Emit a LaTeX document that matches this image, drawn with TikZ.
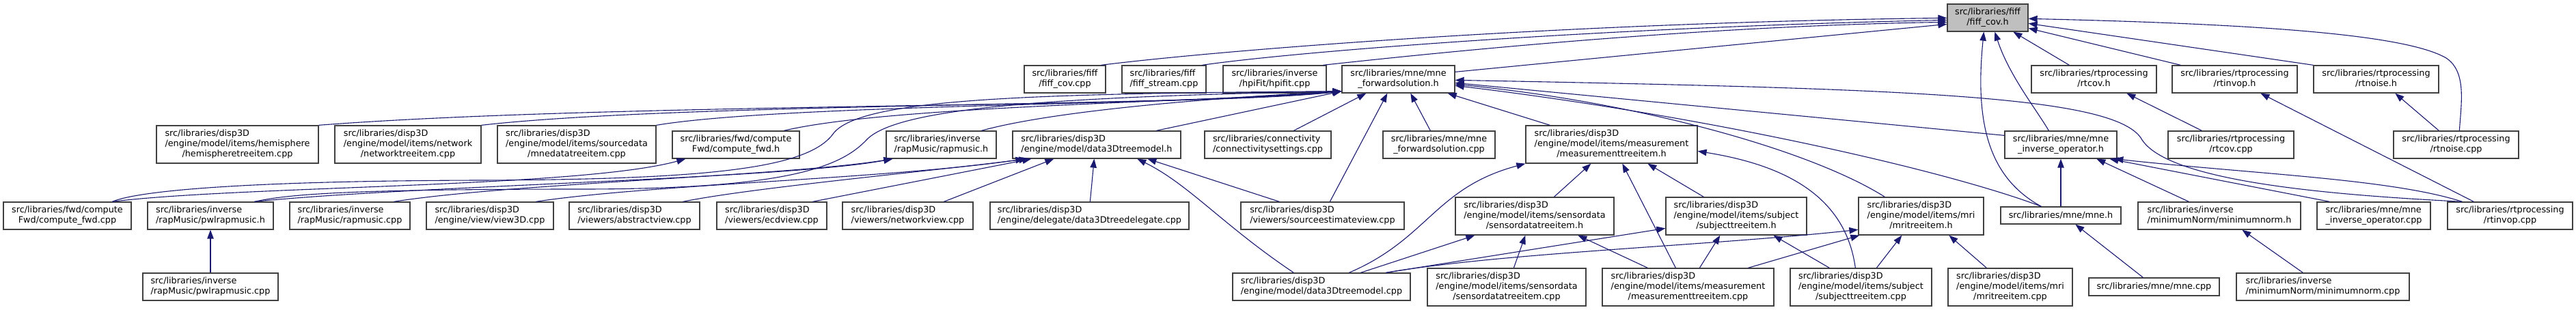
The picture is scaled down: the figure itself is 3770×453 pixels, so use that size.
\documentclass[tikz,border=0pt]{standalone}
\usepackage{fontspec}
\setmainfont{DejaVu Sans}
\usetikzlibrary{arrows.meta}
\definecolor{mblue}{HTML}{191970}
\definecolor{nodeborder}{HTML}{404040}
\definecolor{rootfill}{HTML}{BFBFBF}
\newcommand\fsz{\fontsize{12.8}{15}\selectfont}
\newcommand\Ltwo[2]{\begin{tabular}{@{}l@{}}#1\\\multicolumn{1}{@{}c@{}}{#2}\end{tabular}}
\newcommand\Lthree[3]{\begin{tabular}{@{}l@{}}#1\\#2\\\multicolumn{1}{@{}c@{}}{#3}\end{tabular}}
\tikzset{
  fnode/.style={draw=nodeborder, line width=1.3pt, fill=white, inner sep=0pt, font=\fsz},
  dep/.style={draw=mblue, line width=1.1pt, arrows={Triangle[length=13pt,width=9.5pt]-}},
}
\begin{document}
\begin{tikzpicture}[x=1pt,y=-1pt]
\fill[white] (0,0) rectangle (3770,453);
\useasboundingbox (0,0) rectangle (3770,453);
% row 1
\node[fnode, fill=rootfill, minimum width=118, minimum height=40] (root) at (2909,26) {\Ltwo{src/libraries/fiff}{/fiff\_cov.h}};
% row 2
\node[fnode, minimum width=119, minimum height=40] (fcovcpp) at (1558.5,116) {\Ltwo{src/libraries/fiff}{/fiff\_cov.cpp}};
\node[fnode, minimum width=123, minimum height=40] (fstream) at (1703.5,116) {\Ltwo{src/libraries/fiff}{/fiff\_stream.cpp}};
\node[fnode, minimum width=151, minimum height=40] (hpifit) at (1865.5,116) {\Ltwo{src/libraries/inverse}{/hpiFit/hpifit.cpp}};
\node[fnode, minimum width=165, minimum height=40] (mnefwdh) at (2046.5,116) {\Ltwo{src/libraries/mne/mne}{\_forwardsolution.h}};
\node[fnode, minimum width=183, minimum height=40] (rtcovh) at (3064.5,116) {\Ltwo{src/libraries/rtprocessing}{/rtcov.h}};
\node[fnode, minimum width=183, minimum height=40] (rtinvoph) at (3270.5,116) {\Ltwo{src/libraries/rtprocessing}{/rtinvop.h}};
\node[fnode, minimum width=183, minimum height=40] (rtnoiseh) at (3477.5,116) {\Ltwo{src/libraries/rtprocessing}{/rtnoise.h}};
% row 3
\node[fnode, minimum width=237, minimum height=55] (hemi) at (347.5,211.5) {\Lthree{src/libraries/disp3D}{/engine/model/items/hemisphere}{/hemispheretreeitem.cpp}};
\node[fnode, minimum width=214, minimum height=55] (network) at (597,211.5) {\Lthree{src/libraries/disp3D}{/engine/model/items/network}{/networktreeitem.cpp}};
\node[fnode, minimum width=232, minimum height=55] (mnedata) at (844,211.5) {\Lthree{src/libraries/disp3D}{/engine/model/items/sourcedata}{/mnedatatreeitem.cpp}};
\node[fnode, minimum width=186, minimum height=40] (cfwdh) at (1077,212) {\Ltwo{src/libraries/fwd/compute}{Fwd/compute\_fwd.h}};
\node[fnode, minimum width=161, minimum height=40] (rapmh) at (1377.5,212) {\Ltwo{src/libraries/inverse}{/rapMusic/rapmusic.h}};
\node[fnode, minimum width=246, minimum height=40] (d3dh) at (1605,212) {\Ltwo{src/libraries/disp3D}{/engine/model/data3Dtreemodel.h}};
\node[fnode, minimum width=185, minimum height=40] (conn) at (1855.5,212) {\Ltwo{src/libraries/connectivity}{/connectivitysettings.cpp}};
\node[fnode, minimum width=164, minimum height=40] (mnefwdcpp) at (2106,212) {\Ltwo{src/libraries/mne/mne}{\_forwardsolution.cpp}};
\node[fnode, minimum width=251, minimum height=55] (meash) at (2358.5,211.5) {\Lthree{src/libraries/disp3D}{/engine/model/items/measurement}{/measurementtreeitem.h}};
\node[fnode, minimum width=164, minimum height=40] (mneinvh) at (3016,212) {\Ltwo{src/libraries/mne/mne}{\_inverse\_operator.h}};
\node[fnode, minimum width=184, minimum height=40] (rtcovcpp) at (3265,212) {\Ltwo{src/libraries/rtprocessing}{/rtcov.cpp}};
\node[fnode, minimum width=183, minimum height=40] (rtnoisecpp) at (3594.5,212) {\Ltwo{src/libraries/rtprocessing}{/rtnoise.cpp}};
% row 4
\node[fnode, minimum width=187, minimum height=40] (cfwdcpp) at (98.5,316) {\Ltwo{src/libraries/fwd/compute}{Fwd/compute\_fwd.cpp}};
\node[fnode, minimum width=184, minimum height=40] (pwlh) at (308,316) {\Ltwo{src/libraries/inverse}{/rapMusic/pwlrapmusic.h}};
\node[fnode, minimum width=176, minimum height=40] (rapcpp) at (512,316) {\Ltwo{src/libraries/inverse}{/rapMusic/rapmusic.cpp}};
\node[fnode, minimum width=186, minimum height=40] (view3d) at (717,316) {\Ltwo{src/libraries/disp3D}{/engine/view/view3D.cpp}};
\node[fnode, minimum width=191, minimum height=40] (abstract) at (928.5,316) {\Ltwo{src/libraries/disp3D}{/viewers/abstractview.cpp}};
\node[fnode, minimum width=161, minimum height=40] (ecd) at (1129.5,316) {\Ltwo{src/libraries/disp3D}{/viewers/ecdview.cpp}};
\node[fnode, minimum width=191, minimum height=40] (netview) at (1328.5,316) {\Ltwo{src/libraries/disp3D}{/viewers/networkview.cpp}};
\node[fnode, minimum width=291, minimum height=40] (deleg) at (1594.5,316) {\Ltwo{src/libraries/disp3D}{/engine/delegate/data3Dtreedelegate.cpp}};
\node[fnode, minimum width=239, minimum height=40] (srcest) at (1935.5,316) {\Ltwo{src/libraries/disp3D}{/viewers/sourceestimateview.cpp}};
\node[fnode, minimum width=232, minimum height=55] (sensh) at (2246,316.5) {\Lthree{src/libraries/disp3D}{/engine/model/items/sensordata}{/sensordatatreeitem.h}};
\node[fnode, minimum width=206, minimum height=55] (subjh) at (2541,316.5) {\Lthree{src/libraries/disp3D}{/engine/model/items/subject}{/subjecttreeitem.h}};
\node[fnode, minimum width=183, minimum height=55] (mrih) at (2811.5,316.5) {\Lthree{src/libraries/disp3D}{/engine/model/items/mri}{/mritreeitem.h}};
\node[fnode, minimum width=176, minimum height=25] (mneh) at (3016,315.5) {src/libraries/mne/mne.h};
\node[fnode, minimum width=238, minimum height=40] (minnormh) at (3248,316) {\Ltwo{src/libraries/inverse}{/minimumNorm/minimumnorm.h}};
\node[fnode, minimum width=166, minimum height=40] (mneinvcpp) at (3474,316) {\Ltwo{src/libraries/mne/mne}{\_inverse\_operator.cpp}};
\node[fnode, minimum width=183, minimum height=40] (rtinvopcpp) at (3673.5,316) {\Ltwo{src/libraries/rtprocessing}{/rtinvop.cpp}};
% row 5
\node[fnode, minimum width=198, minimum height=40] (pwlcpp) at (308,420) {\Ltwo{src/libraries/inverse}{/rapMusic/pwlrapmusic.cpp}};
\node[fnode, minimum width=260, minimum height=40] (d3dcpp) at (1934,420) {\Ltwo{src/libraries/disp3D}{/engine/model/data3Dtreemodel.cpp}};
\node[fnode, minimum width=232, minimum height=55] (senscpp) at (2205,420.5) {\Lthree{src/libraries/disp3D}{/engine/model/items/sensordata}{/sensordatatreeitem.cpp}};
\node[fnode, minimum width=251, minimum height=55] (meascpp) at (2470.5,420.5) {\Lthree{src/libraries/disp3D}{/engine/model/items/measurement}{/measurementtreeitem.cpp}};
\node[fnode, minimum width=207, minimum height=55] (subjcpp) at (2723.5,420.5) {\Lthree{src/libraries/disp3D}{/engine/model/items/subject}{/subjecttreeitem.cpp}};
\node[fnode, minimum width=182, minimum height=55] (mricpp) at (2942,420.5) {\Lthree{src/libraries/disp3D}{/engine/model/items/mri}{/mritreeitem.cpp}};
\node[fnode, minimum width=191, minimum height=26] (mnecpp) at (3152.5,420) {src/libraries/mne/mne.cpp};
\node[fnode, minimum width=253, minimum height=40] (minnormcpp) at (3399.5,420) {\Ltwo{src/libraries/inverse}{/minimumNorm/minimumnorm.cpp}};

% edges into root
\draw[dep] ([shift={(0,21)}]root.north west) .. controls (2300,33) and (1800,72) .. ([shift={(113,0)}]fcovcpp.north west);
\draw[dep] ([shift={(0,24)}]root.north west) .. controls (2350,40) and (1900,75) .. ([shift={(118,0)}]fstream.north west);
\draw[dep] ([shift={(0,27)}]root.north west) .. controls (2500,38) and (2150,72) .. ([shift={(147,0)}]hpifit.north west);
\draw[dep] ([shift={(0,30)}]root.north west) -- ([shift={(0,10)}]mnefwdh.north east);
\draw[dep] ([shift={(97,0)}]root.south west) -- ([shift={(56,0)}]rtcovh.north west);
\draw[dep] ([shift={(0,36)}]root.north east) -- ([shift={(13,0)}]rtinvoph.north west);
\draw[dep] ([shift={(0,29)}]root.north east) -- (rtnoiseh.north west);
\draw[dep] ([shift={(0,22)}]root.north east) .. controls (3300,35) and (3520,50) .. (3580,85) .. controls (3610,105) and (3602,150) .. ([shift={(97,0)}]rtnoisecpp.north west);
\draw[dep] ([shift={(70,0)}]root.south west) .. controls (2940,110) and (2980,160) .. ([shift={(65,0)}]mneinvh.north west);
\draw[dep] ([shift={(54,0)}]root.south west) .. controls (2890,180) and (2910,260) .. ([shift={(60,0)}]mneh.north west);
% edges into mne_forwardsolution.h
\draw[dep] ([shift={(0,22)}]mnefwdh.north east) .. controls (2800,130) and (3100,140) .. (3135,205) .. controls (3175,265) and (3400,285) .. ([shift={(22,0)}]rtinvopcpp.north west);
\draw[dep] ([shift={(0,26)}]mnefwdh.north east) -- ([shift={(0,7)}]mneinvh.north west);
\draw[dep] ([shift={(0,28)}]mnefwdh.north east) .. controls (2400,150) and (2650,220) .. ([shift={(39,0)}]mrih.north west);
\draw[dep] ([shift={(0,30)}]mnefwdh.north east) .. controls (2500,170) and (2850,250) .. ([shift={(60,0)}]mneh.north west);
\draw[dep] ([shift={(-11,0)}]mnefwdh.south east) -- ([shift={(36,0)}]meash.north west);
\draw[dep] ([shift={(101,0)}]mnefwdh.south west) -- ([shift={(70,0)}]mnefwdcpp.north west);
\draw[dep] ([shift={(67,0)}]mnefwdh.south west) -- ([shift={(131,0)}]srcest.north west);
\draw[dep] ([shift={(36,0)}]mnefwdh.south west) -- ([shift={(131,0)}]conn.north west);
\draw[dep] ([shift={(0,-3)}]mnefwdh.south west) -- ([shift={(211,0)}]d3dh.north west);
\draw[dep] ([shift={(0,-3)}]mnefwdh.south west) .. controls (1800,142) and (1550,160) .. ([shift={(140,0)}]rapmh.north west);
\draw[dep] ([shift={(0,-3)}]mnefwdh.south west) .. controls (1750,150) and (1300,155) .. ([shift={(164,0)}]cfwdh.north west);
\draw[dep] ([shift={(0,-3)}]mnefwdh.south west) .. controls (1750,154) and (1150,152) .. (mnedata.north east);
\draw[dep] ([shift={(0,-3)}]mnefwdh.south west) .. controls (1750,156) and (1000,150) .. (network.north east);
\draw[dep] ([shift={(0,-3)}]mnefwdh.south west) .. controls (1750,158) and (900,150) .. (hemi.north east);
\draw[dep] ([shift={(0,-3)}]mnefwdh.south west) .. controls (1500,137) and (1260,145) .. (1220,195) .. controls (1185,245) and (1050,263) .. (700,264) .. controls (350,265) and (200,280) .. ([shift={(160,0)}]cfwdcpp.north west);
\draw[dep] ([shift={(0,-3)}]mnefwdh.south west) .. controls (1520,142) and (1310,160) .. (1268,205) .. controls (1230,245) and (1150,277) .. (850,277) .. controls (500,277) and (420,285) .. ([shift={(157,0)}]pwlh.north west);
% rapmusic.h, compute_fwd.h
\draw[dep] ([shift={(10,0)}]rapmh.south west) .. controls (1150,262) and (600,272) .. ([shift={(157,0)}]pwlh.north west);
\draw[dep] ([shift={(10,0)}]rapmh.south west) .. controls (1150,258) and (750,268) .. ([shift={(153,0)}]rapcpp.north west);
\draw[dep] ([shift={(20,0)}]cfwdh.south west) .. controls (850,275) and (350,272) .. ([shift={(160,0)}]cfwdcpp.north west);
% data3Dtreemodel.h
\draw[dep] ([shift={(18,0)}]d3dh.south west) .. controls (1300,262) and (950,270) .. ([shift={(161,0)}]view3d.north west);
\draw[dep] ([shift={(23,0)}]d3dh.south west) .. controls (1350,252) and (1100,275) .. ([shift={(167,0)}]abstract.north west);
\draw[dep] ([shift={(28,0)}]d3dh.south west) -- ([shift={(141,0)}]ecd.north west);
\draw[dep] ([shift={(61,0)}]d3dh.south west) -- ([shift={(149,0)}]netview.north west);
\draw[dep] ([shift={(120,0)}]d3dh.south west) -- ([shift={(147,0)}]deleg.north west);
\draw[dep] ([shift={(183,0)}]d3dh.south west) .. controls (1740,270) and (1790,330) .. ([shift={(90,0)}]d3dcpp.north west);
\draw[dep] ([shift={(198,0)}]d3dh.south west) -- ([shift={(57,0)}]srcest.north west);
% measurementtreeitem.h
\draw[dep] (meash.south west) .. controls (2100,275) and (2090,350) .. ([shift={(171,0)}]d3dcpp.north west);
\draw[dep] ([shift={(96,0)}]meash.south west) -- ([shift={(145,0)}]sensh.north west);
\draw[dep] ([shift={(142,0)}]meash.south west) -- ([shift={(108,0)}]meascpp.north west);
\draw[dep] ([shift={(179,0)}]meash.south west) -- ([shift={(56,0)}]subjh.north west);
\draw[dep] ([shift={(0,38)}]meash.north east) .. controls (2600,240) and (2700,280) .. ([shift={(96,0)}]subjcpp.north west);
% sensordata, subject, mri
\draw[dep] ([shift={(29,0)}]sensh.south west) -- ([shift={(188,0)}]d3dcpp.north west);
\draw[dep] ([shift={(103,0)}]sensh.south west) -- ([shift={(127,0)}]senscpp.north west);
\draw[dep] ([shift={(180,0)}]sensh.south west) -- ([shift={(67,0)}]meascpp.north west);
\draw[dep] ([shift={(0,46)}]subjh.north west) -- ([shift={(225,0)}]d3dcpp.north west);
\draw[dep] ([shift={(80,0)}]subjh.south west) -- ([shift={(143,0)}]meascpp.north west);
\draw[dep] ([shift={(158,0)}]subjh.south west) -- ([shift={(58,0)}]subjcpp.north west);
\draw[dep] ([shift={(0,48)}]mrih.north west) .. controls (2500,360) and (2200,370) .. ([shift={(225,0)}]d3dcpp.north west);
\draw[dep] ([shift={(2,0)}]mrih.south west) -- ([shift={(214,0)}]meascpp.north west);
\draw[dep] ([shift={(64,0)}]mrih.south west) -- ([shift={(127,0)}]subjcpp.north west);
\draw[dep] ([shift={(133,0)}]mrih.south west) -- ([shift={(57,0)}]mricpp.north west);
% mne_inverse_operator.h and right part
\draw[dep] (mneinvh.south) -- (mneh.north);
\draw[dep] ([shift={(135,0)}]mneinvh.south west) -- ([shift={(75,0)}]minnormh.north west);
\draw[dep] ([shift={(154,0)}]mneinvh.south west) -- ([shift={(19,0)}]mneinvcpp.north west);
\draw[dep] ([shift={(161,0)}]mneinvh.south west) .. controls (3300,255) and (3500,262) .. ([shift={(22,0)}]rtinvopcpp.north west);
\draw[dep] ([shift={(130,0)}]rtinvoph.south west) -- ([shift={(39,0)}]rtinvopcpp.north west);
\draw[dep] ([shift={(140,0)}]rtcovh.south west) -- ([shift={(50,0)}]rtcovcpp.north west);
\draw[dep] ([shift={(120,0)}]rtnoiseh.south west) -- ([shift={(67,0)}]rtnoisecpp.north west);
\draw[dep] ([shift={(110,0)}]mneh.south west) -- ([shift={(80,0)}]mnecpp.north west);
\draw[dep] ([shift={(153,0)}]minnormh.south west) -- ([shift={(98,0)}]minnormcpp.north west);
\draw[dep] (pwlh.south) -- (pwlcpp.north);
\end{tikzpicture}
\end{document}
